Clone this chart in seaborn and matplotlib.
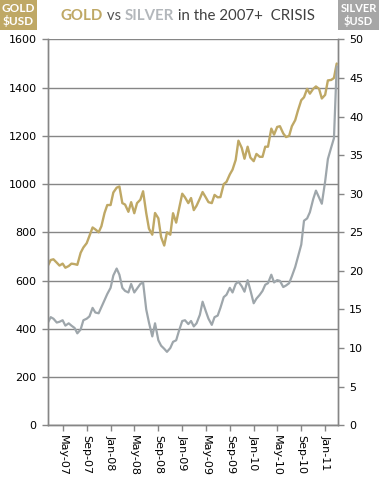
import pandas as pd
import matplotlib
matplotlib.use('Agg')
import matplotlib.pyplot as plt
import matplotlib.dates as mdates
from matplotlib.patches import Rectangle
import seaborn as sns

# datos (lecturas aproximadas, quincenales)
fechas = pd.date_range('2007-02-15', '2011-03-01', freq='SMS')

oro = [662, 685, 688, 674, 662, 670, 653, 660, 670, 668,
       665, 715, 737, 755, 785, 820, 812, 800, 825, 880,
       913, 913, 965, 985, 990, 921, 915, 885, 925, 879,
       921, 935, 970, 880, 815, 790, 880, 858, 780, 745,
       800, 790, 879, 840, 895, 960, 945, 921, 942, 892,
       910, 940, 967, 945, 925, 921, 955, 945, 946, 1000,
       1009, 1040, 1060, 1100, 1180, 1150, 1105, 1155, 1110, 1095,
       1125, 1113, 1113, 1155, 1155, 1230, 1205, 1237, 1240, 1210,
       1195, 1200, 1240, 1265, 1305, 1348, 1360, 1395, 1375, 1395,
       1405, 1395, 1355, 1370, 1430, 1432, 1440, 1500]

plata = [13.3, 14.0, 13.8, 13.3, 13.4, 13.6, 12.9, 13.2, 12.9, 12.6,
         11.9, 12.4, 13.6, 13.8, 14.1, 15.2, 14.6, 14.5, 15.3, 16.2,
         17.0, 17.8, 19.4, 20.3, 19.5, 17.8, 17.4, 17.2, 18.3, 17.2,
         17.7, 18.3, 18.5, 15.0, 13.3, 11.5, 13.2, 11.0, 10.3, 9.9,
         9.5, 10.0, 10.8, 11.0, 12.2, 13.5, 13.6, 13.1, 13.5, 12.8,
         13.2, 14.3, 16.0, 14.8, 13.8, 13.0, 14.0, 14.2, 15.2, 16.6,
         16.9, 17.8, 17.2, 18.3, 18.6, 18.0, 17.3, 18.8, 17.5, 15.8,
         16.4, 16.9, 17.4, 18.2, 18.4, 19.5, 18.5, 18.8, 18.7, 17.9,
         18.1, 18.4, 19.3, 20.5, 21.8, 23.4, 26.5, 26.8, 27.6, 29.3,
         30.4, 29.5, 28.7, 31.6, 34.5, 36.0, 37.2, 46.5]

df = pd.DataFrame({'Fecha': fechas, 'Oro': oro, 'Plata': plata})

c_oro = '#BFA865'
c_plata = '#9EA6AB'
c_eje = '#868686'

sns.set_style('white')
plt.rcParams['font.family'] = ['DejaVu Sans']

W, H = 379, 499
fig = plt.figure(figsize=(W / 100, H / 100), dpi=100)
ax = fig.add_axes([0.126, 0.148, 0.766, 0.773])
ax2 = ax.twinx()

sns.lineplot(data=df, x='Fecha', y='Oro', ax=ax, color=c_oro, linewidth=1.7)
sns.lineplot(data=df, x='Fecha', y='Plata', ax=ax2, color=c_plata, linewidth=1.6)

ax.set_ylim(0, 1600)
ax.set_yticks(range(0, 1601, 200))
ax2.set_ylim(0, 50)
ax2.set_yticks(range(0, 51, 5))
ax.set_xlim(pd.Timestamp('2007-02-14'), pd.Timestamp('2011-03-08'))

ax.xaxis.set_major_locator(mdates.MonthLocator(bymonth=[1, 5, 9]))
ax.xaxis.set_major_formatter(mdates.DateFormatter('%b-%y'))

ax.grid(axis='y', color=c_eje, linewidth=1)
ax.set_axisbelow(True)
ax.set_xlabel('')
ax.set_ylabel('')
ax2.set_ylabel('')

for a in (ax, ax2):
    a.spines['top'].set_visible(False)
    for s in ('left', 'right', 'bottom'):
        a.spines[s].set_color(c_eje)
        a.spines[s].set_linewidth(1)
    a.tick_params(colors=c_eje, labelcolor='black', labelsize=8, length=4, width=1)
ax.tick_params(axis='y', direction='out', left=True, pad=4)
ax.tick_params(axis='x', bottom=True, direction='out', rotation=270, pad=3)
ax2.tick_params(axis='y', right=True, direction='out', pad=4)
for t in ax.get_xticklabels():
    t.set_va('top')
    t.set_ha('center')

# titulo en partes de colores, medido para centrarlo
partes = [('GOLD', c_oro, 'bold'), (' vs ', '#555555', 'normal'),
          ('SILVER', '#B3B7BB', 'bold'), (' in the 2007+  CRISIS', '#404040', 'normal')]
fs = 10.8
rend = fig.canvas.get_renderer()
textos = []
for txt, col, peso in partes:
    t = fig.text(0, 0.968, txt, color=col, fontsize=fs, fontweight=peso,
                 family='Lato', ha='left', va='center')
    textos.append(t)
anchos = [t.get_window_extent(renderer=rend).width for t in textos]
x = 188 - sum(anchos) / 2
for t, w in zip(textos, anchos):
    t.set_x(x / W)
    x += w

# etiquetas de esquina
fig.patches.append(Rectangle((0, 1 - 30 / H), 37 / W, 30 / H, transform=fig.transFigure,
                             fc=c_oro, ec='none'))
fig.patches.append(Rectangle((1 - 41 / W, 1 - 30 / H), 41 / W, 30 / H, transform=fig.transFigure,
                             fc='#A6A6A6', ec='none'))
fig.text(18.5 / W, 1 - 15 / H, 'GOLD\n$USD', color='white', fontsize=8.5, fontweight='bold',
         family='Lato', ha='center', va='center', linespacing=1.05)
fig.text(1 - 20.5 / W, 1 - 15 / H, 'SILVER\n$USD', color='white', fontsize=8, fontweight='bold',
         family='Lato', ha='center', va='center', linespacing=1.05)

plt.savefig('out.png', dpi=100, facecolor='white')
plt.close()
